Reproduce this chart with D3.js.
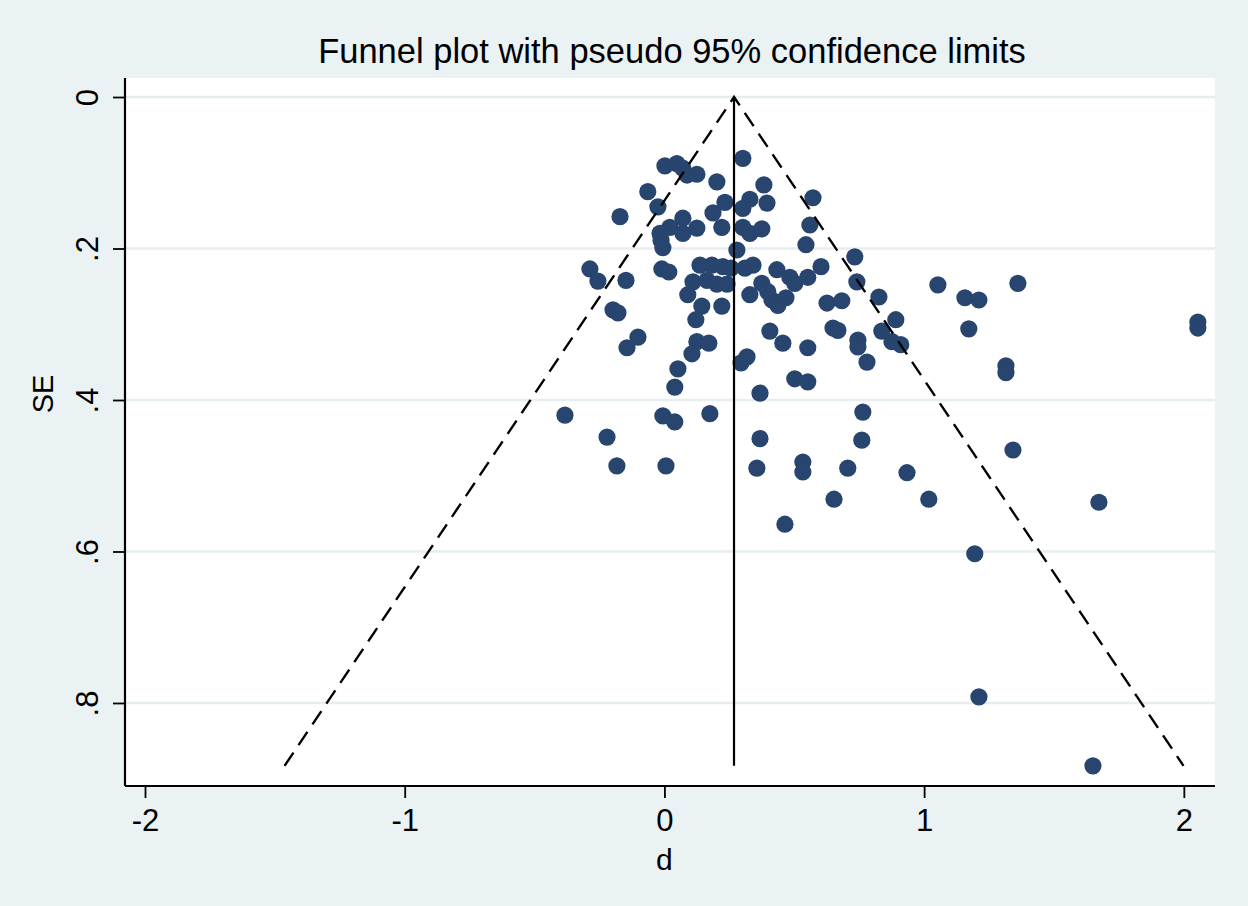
<!DOCTYPE html>
<html>
<head>
<meta charset="utf-8">
<script src="https://cdn.jsdelivr.net/npm/d3@7"></script>
<style>
  html, body { margin: 0; padding: 0; background: #eaf2f3; }
  svg { display: block; }
  text { font-family: "Liberation Sans", Arial, Helvetica, sans-serif; fill: #000; }
</style>
</head>
<body>
<svg id="chart" width="1248" height="906"></svg>
<script>
// ---- data (effect size d, standard error SE) ----
const dValues = [
  0.302, 0.002, 0.048, 0.071, 0.087, 0.125, 0.202, 0.383, -0.064, 0.572,
  0.233, 0.329, 0.302, 0.395, -0.025, -0.171, 0.187, 0.071, 0.021, 0.125,
  0.071, -0.017, -0.013, -0.006, 0.221, 0.302, 0.329, 0.375, 0.560, 0.545,
  0.279, 0.733, -0.287, -0.256, -0.148, -0.010, 0.017, 0.137, 0.183, 0.225,
  0.256, 0.310, 0.341, 0.433, 0.483, 0.552, 0.603, 0.110, 0.164, 0.202,
  0.241, 0.375, 0.502, 0.741, 0.090, 0.329, 0.398, 0.414, 0.468, 0.437,
  0.626, 0.683, 0.826, 1.053, 1.157, 1.211, 1.361, 0.144, 0.221, 0.121,
  -0.198, -0.179, -0.102, -0.144, 0.125, 0.171, 0.106, 0.406, 0.456, 0.552,
  0.649, 0.668, 0.745, 0.745, 0.837, 0.876, 0.910, 0.891, 1.172, 2.054,
  2.054, 0.780, 0.295, 0.318, 0.052, 0.502, 0.552, 0.040, 0.368, 1.315,
  1.315, -0.383, -0.006, 0.040, 0.175, 0.764, -0.221, 0.368, 0.760, -0.183,
  0.006, 0.356, 0.533, 0.533, 0.706, 0.934, 0.653, 1.018, 1.342, 1.673,
  0.464, 1.195, 1.211, 1.650
];
const seValues = [
  0.081, 0.091, 0.088, 0.094, 0.103, 0.102, 0.112, 0.116, 0.125, 0.133,
  0.139, 0.135, 0.147, 0.140, 0.145, 0.158, 0.153, 0.160, 0.172, 0.173,
  0.180, 0.180, 0.189, 0.199, 0.172, 0.172, 0.180, 0.174, 0.169, 0.195,
  0.202, 0.211, 0.227, 0.243, 0.242, 0.227, 0.231, 0.222, 0.222, 0.224,
  0.226, 0.226, 0.222, 0.228, 0.238, 0.238, 0.224, 0.244, 0.242, 0.247,
  0.247, 0.246, 0.246, 0.244, 0.261, 0.261, 0.257, 0.268, 0.265, 0.275,
  0.272, 0.269, 0.264, 0.248, 0.265, 0.268, 0.246, 0.276, 0.276, 0.294,
  0.281, 0.285, 0.317, 0.331, 0.323, 0.325, 0.339, 0.309, 0.325, 0.331,
  0.305, 0.308, 0.321, 0.330, 0.309, 0.323, 0.327, 0.294, 0.306, 0.297,
  0.305, 0.350, 0.351, 0.343, 0.359, 0.372, 0.376, 0.383, 0.391, 0.355,
  0.364, 0.420, 0.421, 0.429, 0.418, 0.416, 0.449, 0.451, 0.453, 0.487,
  0.487, 0.490, 0.482, 0.495, 0.490, 0.496, 0.531, 0.531, 0.466, 0.535,
  0.564, 0.603, 0.792, 0.883
];
const pooledD = 0.268;   // pooled estimate (vertical line)
const seMax = 0.883;     // funnel depth
const zCrit = 1.96;

const xTicks = [-2, -1, 0, 1, 2];
const xTickLabels = ["-2", "-1", "0", "1", "2"];
const yTicks = [0, 0.2, 0.4, 0.6, 0.8];
const yTickLabels = ["0", ".2", ".4", ".6", ".8"];

const titleText = "Funnel plot with pseudo 95% confidence limits";
const xTitle = "d";
const yTitle = "SE";

// ---- layout ----
const W = 1248, H = 906;
const plot = { left: 125, right: 1215, top: 78, bottom: 786 };

const svg = d3.select("#chart");
svg.append("rect").attr("x", 0).attr("y", 0).attr("width", W).attr("height", H)
  .attr("fill", "#eaf2f3");
svg.append("rect")
  .attr("x", plot.left).attr("y", plot.top)
  .attr("width", plot.right - plot.left).attr("height", plot.bottom - plot.top)
  .attr("fill", "#ffffff");

const x = d3.scaleLinear().domain([-2.077, 2.120]).range([plot.left, plot.right]);
const y = d3.scaleLinear().domain([-0.0251, 0.9096]).range([plot.top, plot.bottom]);

// gridlines
svg.append("g").selectAll("line").data(yTicks).join("line")
  .attr("x1", plot.left).attr("x2", plot.right)
  .attr("y1", d => y(d)).attr("y2", d => y(d))
  .attr("stroke", "#e6eef0").attr("stroke-width", 2.5);

// points
const pts = dValues.map((d, i) => ({ d: d, se: seValues[i] }));
svg.append("g").selectAll("circle").data(pts).join("circle")
  .attr("cx", p => x(p.d)).attr("cy", p => y(p.se))
  .attr("r", 8.6)
  .attr("fill", "#27456e");

// funnel lines
const lineGen = d3.line().x(p => x(p[0])).y(p => y(p[1]));
svg.append("path")
  .attr("d", lineGen([[pooledD - zCrit * seMax, seMax], [pooledD, 0], [pooledD + zCrit * seMax, seMax]]))
  .attr("fill", "none").attr("stroke", "#000").attr("stroke-width", 2.4)
  .attr("stroke-dasharray", "16,9");
svg.append("path")
  .attr("d", lineGen([[pooledD, 0], [pooledD, seMax]]))
  .attr("fill", "none").attr("stroke", "#000").attr("stroke-width", 2.2);

// axes
const xAxis = d3.axisBottom(x).tickValues(xTicks).tickSize(12).tickSizeOuter(0)
  .tickFormat((d, i) => xTickLabels[i]);
const gx = svg.append("g").attr("transform", `translate(0,${plot.bottom})`).call(xAxis);
gx.select(".domain").attr("stroke", "#000").attr("stroke-width", 2.2)
  .attr("d", `M${plot.left},0H${plot.right}`);
gx.selectAll(".tick line").attr("stroke", "#000").attr("stroke-width", 1.8);
gx.selectAll(".tick text")
  .attr("y", 45).attr("dy", 0)
  .style("font-size", "31px")
  .style("font-family", "'Liberation Sans', Arial, sans-serif")
  .attr("fill", "#000");

const yAxis = d3.axisLeft(y).tickValues(yTicks).tickSize(12).tickSizeOuter(0)
  .tickFormat((d, i) => yTickLabels[i]);
const gy = svg.append("g").attr("transform", `translate(${plot.left},0)`).call(yAxis);
gy.select(".domain").attr("stroke", "#000").attr("stroke-width", 2.2)
  .attr("d", `M0,${plot.top}V${plot.bottom}`);
gy.selectAll(".tick line").attr("stroke", "#000").attr("stroke-width", 1.8);
gy.selectAll(".tick text")
  .attr("x", 0).attr("dy", 0)
  .attr("transform", "translate(-27,0) rotate(-90)")
  .attr("text-anchor", "middle")
  .style("font-size", "31px")
  .style("font-family", "'Liberation Sans', Arial, sans-serif")
  .attr("fill", "#000");

// titles
svg.append("text")
  .attr("x", (plot.left + plot.right) / 2 + 2).attr("y", 63)
  .attr("text-anchor", "middle")
  .style("font-size", "34.5px")
  .text(titleText);

svg.append("text")
  .attr("x", x(0)).attr("y", 870)
  .attr("text-anchor", "middle")
  .style("font-size", "30px")
  .text(xTitle);

svg.append("text")
  .attr("transform", `translate(53,${y(0.4) - 6}) rotate(-90)`)
  .attr("text-anchor", "middle")
  .style("font-size", "29px")
  .text(yTitle);
</script>
</body>
</html>
